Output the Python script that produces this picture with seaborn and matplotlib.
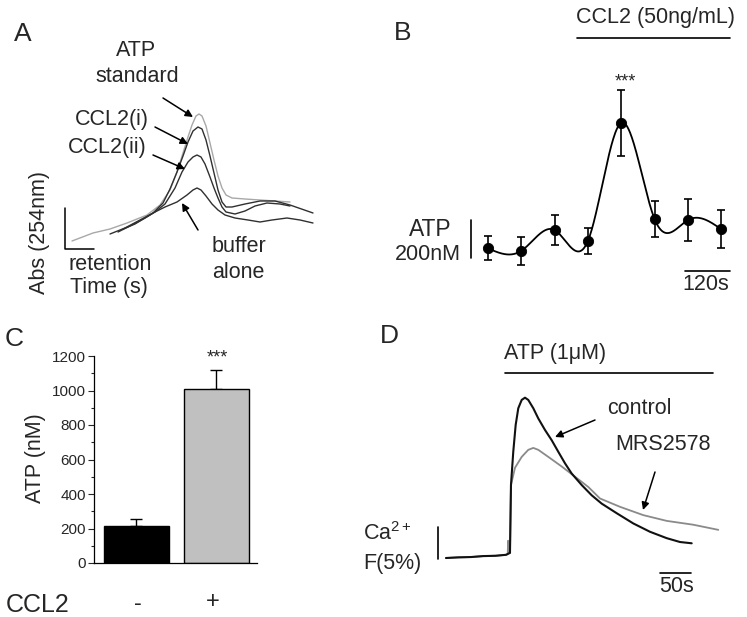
import numpy as np
import pandas as pd
import matplotlib
matplotlib.use("Agg")
import matplotlib.pyplot as plt
from matplotlib.patches import FancyArrowPatch
import seaborn as sns

# ---------------- data ----------------
# Panel A: HPLC traces (retention time, absorbance; arbitrary units)
a_std_t = [7, 28, 45, 62, 82, 95, 105, 112, 118, 123, 127, 131, 134, 137, 141, 145, 149, 153, 157, 161, 167, 180, 195, 210, 225]
a_std_y = [8, 16, 20, 26, 34, 44, 59, 77, 96, 112, 124, 133, 135, 133, 123, 106, 89, 73, 61, 54, 51, 50, 49, 48, 47]
a_c1_t = [45, 60, 75, 88, 98, 105, 112, 118, 123, 128, 133, 137, 141, 145, 149, 153, 157, 161, 167, 180, 195, 210, 225, 248]
a_c1_y = [15, 21, 29, 36, 46, 60, 77, 93, 107, 118, 122, 120, 109, 93, 76, 59, 47, 42, 42, 45, 48, 48, 44, 36]
a_c2_t = [53, 65, 80, 90, 100, 110, 117, 123, 128, 132, 136, 140, 145, 149, 153, 157, 161, 170, 180, 190, 202, 215, 225]
a_c2_y = [17, 23, 31, 37, 45, 61, 77, 87, 92, 94, 92, 85, 72, 61, 51, 42, 37, 35, 38, 43, 46, 45, 43]
a_buf_t = [58, 70, 80, 88, 100, 112, 122, 128, 132, 136, 141, 147, 153, 160, 170, 183, 195, 207, 222, 235, 248]
a_buf_y = [20, 25, 31, 36, 42, 47, 54, 59, 61, 59, 53, 45, 39, 34, 31, 29, 27, 29, 31, 29, 26]

# Panel B: ATP release time course
b_time = [0, 90, 180, 270, 360, 450, 540, 630]          # s
b_atp = [200, 187, 296, 240, 861, 353, 349, 300]       # nM
b_err = [63, 74, 79, 68, 174, 95, 110, 100]            # nM

# Panel C: bar chart
c_labels = ["-", "+"]
c_atp = [215, 1010]
c_err = [40, 110]

# Panel D: Ca2+ traces (time s, dF %)
d_ctrl_t = [0, 20, 40, 60, 80, 96.8, 103.2, 104.8, 108.5, 112.4, 116.6, 122.1, 127.4, 132.7, 140.8,
            148.9, 159.7, 170.5, 181.1, 191.9, 202.7, 218.9, 235, 251.1, 275.3, 302.1, 329, 356,
            377.4, 396.3]
d_ctrl_f = [0, 0.1, 0.15, 0.3, 0.35, 0.5, 0.8, 11.4, 16.6, 20.8, 23.4, 24.7, 25.05, 24.7, 23.4,
            21.8, 20.0, 18.4, 16.6, 14.8, 13.2, 11.4, 9.8, 8.5, 7.0, 5.4, 4.1, 3.1, 2.5, 2.3]
d_mrs_t = [0, 20, 40, 60, 80, 96.8, 99.5, 100.3, 101.2, 103.2, 104.8, 111.3, 122.1, 132.7, 140.8,
           148.9, 165, 186.6, 208.1, 229.5, 248.4, 280.6, 318.2, 356, 398.9, 439.2]
d_mrs_f = [0, 0.1, 0.15, 0.3, 0.35, 0.5, 0.6, 2.7, 1.0, 0.8, 11.4, 14.1, 15.8, 16.9, 17.2,
           16.9, 15.8, 14.3, 12.7, 11.1, 9.3, 8.0, 6.7, 5.8, 5.2, 4.4]

# ---------------- style ----------------
sns.set_style("white")
plt.rcParams["font.family"] = ["Liberation Sans", "DejaVu Sans"]
plt.rcParams["mathtext.fontset"] = "custom"
plt.rcParams["mathtext.rm"] = "Liberation Sans"
plt.rcParams["mathtext.it"] = "Liberation Sans:italic"

FS = 15.5      # main text size
LET = 19       # panel letters
AST = 13       # asterisks

W, H = 747, 617
fig = plt.figure(figsize=(W / 100, H / 100), dpi=100)


def rect(x0, y0, x1, y1):
    return [x0 / W, 1 - y1 / H, (x1 - x0) / W, (y1 - y0) / H]


def fp(x, y):
    return (x / W, 1 - y / H)


def txt(x, y, s, size=FS, ha="center", va="center", **kw):
    fig.text(x / W, 1 - y / H, s, size=size, ha=ha, va=va, **kw)


def arrow(x0, y0, x1, y1):
    fig.add_artist(FancyArrowPatch(fp(x0, y0), fp(x1, y1), transform=fig.transFigure,
                                   arrowstyle="-|>", mutation_scale=11, lw=1.1,
                                   color="k", shrinkA=0, shrinkB=0))


def natural_spline(x, y, n=500):
    x = np.asarray(x, float)
    y = np.asarray(y, float)
    nn = len(x)
    h = np.diff(x)
    A = np.zeros((nn, nn))
    r = np.zeros(nn)
    A[0, 0] = 1
    A[-1, -1] = 1
    for i in range(1, nn - 1):
        A[i, i - 1] = h[i - 1]
        A[i, i] = 2 * (h[i - 1] + h[i])
        A[i, i + 1] = h[i]
        r[i] = 3 * ((y[i + 1] - y[i]) / h[i] - (y[i] - y[i - 1]) / h[i - 1])
    c = np.linalg.solve(A, r)
    b = (y[1:] - y[:-1]) / h - h * (2 * c[:-1] + c[1:]) / 3
    d = (c[1:] - c[:-1]) / (3 * h)
    xs = np.linspace(x[0], x[-1], n)
    idx = np.clip(np.searchsorted(x, xs) - 1, 0, nn - 2)
    dx = xs - x[idx]
    ys = y[idx] + b[idx] * dx + c[idx] * dx ** 2 + d[idx] * dx ** 3
    return xs, ys


# ---------------- Panel A ----------------
axA = fig.add_axes(rect(60, 95, 330, 300))
axA.set_xlim(-5, 265)
axA.set_ylim(-51, 154)
axA.axis("off")
sns.lineplot(x=a_std_t, y=a_std_y, ax=axA, color="#a8a8a8", lw=1.0, sort=False)
sns.lineplot(x=a_c1_t, y=a_c1_y, ax=axA, color="#303030", lw=1.0, sort=False)
sns.lineplot(x=a_c2_t, y=a_c2_y, ax=axA, color="#303030", lw=1.0, sort=False)
sns.lineplot(x=a_buf_t, y=a_buf_y, ax=axA, color="#303030", lw=1.0, sort=False)
axA.plot([0, 0, 29], [41, 0, 0], color="k", lw=1.1)

txt(23, 34, "A", size=LET)
txt(136, 50, "ATP")
txt(137, 76, "standard")
txt(112, 120, "CCL2(i)")
txt(107, 147, "CCL2(ii)")
txt(40, 232, "Abs (254nm)", rotation=90)
txt(68, 265, "retention", ha="left")
txt(70, 288, "Time (s)", ha="left")
txt(212, 247, "buffer", ha="left")
txt(212, 273, "alone", ha="left")
arrow(163, 98, 193, 117)
arrow(155, 127, 188, 144)
arrow(153, 155, 185, 169)
arrow(198, 230, 182, 203)

# ---------------- Panel B ----------------
axB = fig.add_axes(rect(440, 30, 740, 300))
axB.set_xlim(-129.6, 680.4)
axB.set_ylim(-72, 1349)
axB.axis("off")
xs, ys = natural_spline(b_time, b_atp)
sns.lineplot(x=xs, y=ys, ax=axB, color="k", lw=1.3, sort=False)
axB.errorbar(b_time, b_atp, yerr=b_err, fmt="none", ecolor="k", elinewidth=1.2,
             capsize=2.6, capthick=1.2)
sns.scatterplot(x=b_time, y=b_atp, ax=axB, color="k", s=55, edgecolor="k", zorder=5)
axB.plot([240, 653], [1307, 1307], color="k", lw=1.2)
axB.plot([532, 653], [80, 80], color="k", lw=1.2)
axB.plot([-46, -46], [149, 349], color="k", lw=1.2)
txt(403, 33, "B", size=LET)
txt(656, 18, "CCL2 (50ng/mL)")
txt(625, 82, "***", size=AST)
txt(430, 230, "ATP", size=16.5)
txt(428, 255, "200nM")
txt(706, 285, "120s")

# ---------------- Panel C ----------------
axC = fig.add_axes(rect(94, 356, 257, 563))
dfC = pd.DataFrame({"CCL2": c_labels, "ATP": c_atp})
sns.barplot(data=dfC, x="CCL2", y="ATP", hue="CCL2", palette=["black", "#c0c0c0"],
            legend=False, width=0.81, edgecolor="k", linewidth=1.0, ax=axC, errorbar=None)
axC.errorbar([0, 1], c_atp, yerr=[[0, 0], c_err], fmt="none", ecolor="k",
             elinewidth=1.0, capsize=4.5, capthick=1.0, zorder=0)
axC.set_xlim(-0.53, 1.51)
axC.set_ylim(0, 1200)
axC.set_yticks(np.arange(0, 1201, 200))
axC.set_yticks(np.arange(100, 1200, 200), minor=True)
axC.tick_params(axis="y", which="major", direction="out", length=4, width=0.8,
                labelsize=11, pad=2, left=True)
axC.tick_params(axis="y", which="minor", direction="out", length=2, width=0.8, left=True)
axC.set_xticks([])
axC.set_xlabel("")
axC.set_ylabel("")
for s in ["top", "right"]:
    axC.spines[s].set_visible(False)
for s in ["left", "bottom"]:
    axC.spines[s].set_color("k")
    axC.spines[s].set_linewidth(0.9)
txt(14, 339, "C", size=LET)
txt(35, 458, "ATP (nM)", rotation=90)
txt(217, 358, "***", size=AST)
txt(38, 605, "CCL2", size=18)
txt(138, 604, "-", size=17)
txt(213, 602, "+", size=17)

# ---------------- Panel D ----------------
axD = fig.add_axes(rect(430, 340, 740, 600))
axD.set_xlim(-25.8, 474.2)
axD.set_ylim(-6.56, 34.06)
axD.axis("off")
sns.lineplot(x=d_mrs_t, y=d_mrs_f, ax=axD, color="#8a8a8a", lw=1.3, sort=False)
sns.lineplot(x=d_ctrl_t, y=d_ctrl_f, ax=axD, color="#111111", lw=1.5, sort=False)
axD.plot([95, 430.6], [28.9, 28.9], color="k", lw=1.2)
axD.plot([345, 395], [-2.34, -2.34], color="k", lw=1.2)
axD.plot([-12.9, -12.9], [-0.16, 4.84], color="k", lw=1.2)
txt(389, 336, "D", size=LET)
txt(555, 353, "ATP (1μM)")
txt(639, 408, "control")
txt(663, 445, "MRS2578")
txt(363, 534, r"Ca$^{2+}$", ha="left")
txt(363, 563, "F(5%)", ha="left")
txt(677, 587, "50s")
arrow(595, 420, 555, 437)
arrow(655, 472, 643, 510)

fig.savefig("out.png", dpi=100)
